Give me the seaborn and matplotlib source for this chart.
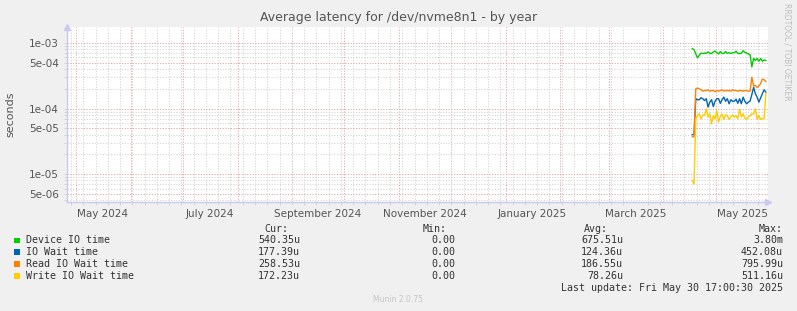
#!/usr/bin/env python3
# -*- coding: utf-8 -*-

import numpy as np
import pandas as pd
import matplotlib as mpl
mpl.use("Agg")
import matplotlib.pyplot as plt
import matplotlib.dates as mdates
from matplotlib.ticker import LogLocator, FuncFormatter, NullFormatter
from matplotlib.patches import Rectangle
import seaborn as sns


# ============================================================
# Data
# ============================================================
TITLE = "Average latency for /dev/nvme8n1 - by year"
FIRST_DAY = "2025-04-17 12:00"
RANGE_START = "2024-04-25 17:00"
RANGE_END = "2025-05-30 17:00"

SERIES = ["Device IO time", "IO Wait time", "Read IO Wait time", "Write IO Wait time"]
COLORS = ["#00CC00", "#0066B3", "#FF8000", "#FFCC00"]

DEVICE_IO = [
    8.2e-4, 7.9e-4, 6.8e-4, 5.9e-4, 6.5e-4, 7.0e-4, 6.9e-4, 7.0e-4, 6.95e-4, 7.3e-4,
    6.95e-4, 6.9e-4, 7.3e-4, 7.5e-4, 7.1e-4, 6.8e-4, 7.4e-4, 6.95e-4, 6.9e-4, 7.4e-4,
    6.95e-4, 7.1e-4, 6.9e-4, 7.1e-4, 7.1e-4, 7.5e-4, 6.9e-4, 6.9e-4, 6.95e-4, 7.6e-4,
    7.2e-4, 7.0e-4, 6.8e-4, 6.6e-4, 4.3e-4, 5.8e-4, 5.4e-4, 5.8e-4, 5.25e-4, 5.8e-4,
    5.25e-4, 5.5e-4, 5.4e-4,
]
IO_WAIT = [
    4.0e-5, 4.0e-5, 1.41e-4, 1.36e-4, 1.36e-4, 1.46e-4, 1.41e-4, 1.32e-4, 1.41e-4, 1.05e-4,
    1.25e-4, 1.36e-4, 1.07e-4, 1.29e-4, 1.41e-4, 1.41e-4, 1.20e-4, 1.36e-4, 1.49e-4, 1.29e-4,
    1.41e-4, 1.18e-4, 1.36e-4, 1.29e-4, 1.29e-4, 1.39e-4, 1.20e-4, 1.41e-4, 1.18e-4, 1.49e-4,
    1.29e-4, 1.18e-4, 1.25e-4, 1.30e-4, 1.64e-4, 2.11e-4, 1.68e-4, 1.49e-4, 1.25e-4, 1.45e-4,
    1.68e-4, 1.93e-4, 1.77e-4,
]
READ_WAIT = [
    3.7e-5, 3.7e-5, 2.0e-4, 2.05e-4, 2.0e-4, 1.93e-4, 1.84e-4, 1.88e-4, 1.88e-4, 1.93e-4,
    1.84e-4, 1.88e-4, 1.88e-4, 1.80e-4, 1.88e-4, 1.84e-4, 1.88e-4, 1.93e-4, 1.84e-4, 1.88e-4,
    1.88e-4, 1.88e-4, 1.84e-4, 1.93e-4, 1.88e-4, 1.88e-4, 1.84e-4, 1.88e-4, 1.88e-4, 1.84e-4,
    1.88e-4, 1.88e-4, 1.82e-4, 1.85e-4, 3.0e-4, 2.2e-4, 2.25e-4, 2.1e-4, 2.2e-4, 2.4e-4,
    2.8e-4, 2.75e-4, 2.58e-4,
]
WRITE_WAIT = [
    8.0e-6, 7.0e-6, 6.95e-5, 7.8e-5, 8.3e-5, 6.95e-5, 8.0e-5, 7.8e-5, 9.9e-5, 7.4e-5,
    8.3e-5, 5.8e-5, 7.8e-5, 6.95e-5, 9.3e-5, 6.2e-5, 7.6e-5, 8.3e-5, 6.8e-5, 8.0e-5,
    7.8e-5, 6.8e-5, 7.4e-5, 8.0e-5, 7.4e-5, 7.8e-5, 6.95e-5, 9.7e-5, 7.4e-5, 8.3e-5,
    7.1e-5, 6.8e-5, 7.4e-5, 7.8e-5, 8.3e-5, 8.3e-5, 9.9e-5, 6.8e-5, 7.8e-5, 6.8e-5,
    7.1e-5, 7.0e-5, 1.72e-4,
]

CUR = ["540.35u", "177.39u", "258.53u", "172.23u"]
MIN = ["0.00", "0.00", "0.00", "0.00"]
AVG = ["675.51u", "124.36u", "186.55u", "78.26u"]
MAX = ["3.80m", "452.08u", "795.99u", "511.16u"]
LAST_UPDATE = "Last update: Fri May 30 17:00:30 2025"

Y_MIN = 3.75e-6
Y_MAX = 1.75e-3

# ============================================================
# Figure geometry (pixels)
# ============================================================
W, H = 797, 311
PLOT_L, PLOT_R, PLOT_T, PLOT_B = 67, 768, 27, 202
BG = "#F0F0F0"
TEXT_C = "#555555"
LEGEND_C = "#333333"
MAJOR_GRID = "#E8A4A4"
MINOR_GRID = "#D4D4D4"
AXIS_C = "#C8C8F0"


def fx(x):
    return x / W


def fy(y):
    return 1 - y / H


# ============================================================
# Build long table
# ============================================================
values = [DEVICE_IO, IO_WAIT, READ_WAIT, WRITE_WAIT]
frames = []
for name, vals in zip(SERIES, values):
    dates = pd.date_range(FIRST_DAY, periods=len(vals), freq="D")
    frames.append(pd.DataFrame({"date": dates, "value": vals, "series": name}))
df = pd.concat(frames, ignore_index=True)


# ============================================================
# Plot
# ============================================================
fig = plt.figure(figsize=(W / 100, H / 100), dpi=100, facecolor=BG)
ax = fig.add_axes([fx(PLOT_L), fy(PLOT_B), fx(PLOT_R - PLOT_L), (PLOT_B - PLOT_T) / H])
ax.set_facecolor("white")

sns.lineplot(
    data=df, x="date", y="value", hue="series",
    hue_order=SERIES, palette=COLORS, linewidth=1.0,
    legend=False, ax=ax, zorder=5,
)

ax.set_yscale("log")
ax.set_ylim(Y_MIN, Y_MAX)
ax.set_xlim(pd.Timestamp(RANGE_START), pd.Timestamp(RANGE_END))

# y grid: 1 and 5 as major (red), rest minor (grey)
ax.yaxis.set_major_locator(LogLocator(base=10, subs=(1.0, 5.0)))
ax.yaxis.set_minor_locator(LogLocator(base=10, subs=(2.0, 3.0, 4.0, 6.0, 7.0, 8.0, 9.0)))
ax.yaxis.set_major_formatter(FuncFormatter(lambda v, p: f"{v:.0e}"))
ax.yaxis.set_minor_formatter(NullFormatter())

# x: weekly minor grid, labels at mid-month every 2 months
ax.xaxis.set_minor_locator(mdates.WeekdayLocator(byweekday=mdates.SU))
ax.xaxis.set_major_locator(mdates.MonthLocator(bymonth=[1, 3, 5, 7, 9, 11], bymonthday=16))
ax.xaxis.set_major_formatter(mdates.DateFormatter("%B %Y"))

dash = (0, (1.2, 1.6))
ax.grid(which="minor", color=MINOR_GRID, linestyle=dash, linewidth=0.7, zorder=0)
ax.grid(which="major", axis="y", color=MAJOR_GRID, linestyle=dash, linewidth=0.7, zorder=1)
for d in pd.date_range("2024-05-01", RANGE_END, freq="MS"):
    ax.axvline(d, color=MAJOR_GRID, linestyle=dash, linewidth=0.7, zorder=1)

ax.tick_params(axis="both", which="both", colors=MINOR_GRID, labelcolor=TEXT_C,
               labelsize=7.5, length=2, width=0.7)
ax.tick_params(axis="x", which="major", length=0, pad=5)
ax.tick_params(axis="y", which="major", pad=4)

ax.set_xlabel("")
ax.set_ylabel("")

for side in ["top", "right"]:
    ax.spines[side].set_visible(False)
for side in ["left", "bottom"]:
    ax.spines[side].set_color(AXIS_C)
    ax.spines[side].set_linewidth(1.0)

# axis arrows
ax.plot([0], [1.0], marker="^", color=AXIS_C, markersize=5, transform=ax.transAxes,
        clip_on=False, zorder=6)
ax.plot([1.0], [0], marker=">", color=AXIS_C, markersize=5, transform=ax.transAxes,
        clip_on=False, zorder=6)

# ============================================================
# Texts
# ============================================================
fig.text(0.5, fy(18), TITLE, ha="center", va="center", fontsize=9, color=TEXT_C)
fig.text(fx(10), fy((PLOT_T + PLOT_B) / 2), "seconds", rotation=90,
         ha="center", va="center", fontsize=8, color=TEXT_C)
fig.text(fx(787), fy(52), "RRDTOOL / TOBI OETIKER", rotation=270,
         ha="center", va="center", fontsize=5.5, color="#BDBDBD")
fig.text(fx(398), fy(300), "Munin 2.0.75", ha="center", va="center",
         fontsize=5.5, color="#C4C4C4")

mono = dict(family="DejaVu Sans Mono", fontsize=7.2, color=LEGEND_C, va="center")

header_y = 228.5
fig.text(fx(288), fy(header_y), "Cur:", ha="right", **mono)
fig.text(fx(447), fy(header_y), "Min:", ha="right", **mono)
fig.text(fx(608), fy(header_y), "Avg:", ha="right", **mono)
fig.text(fx(783), fy(header_y), "Max:", ha="right", **mono)

row_y = [240.3, 252.0, 263.8, 275.8]
for i, name in enumerate(SERIES):
    y = row_y[i]
    fig.patches.append(Rectangle((fx(14), fy(y + 2.7)), 5.5 / W, 5.5 / H,
                                 transform=fig.transFigure, facecolor=COLORS[i],
                                 edgecolor="none"))
    fig.text(fx(26), fy(y), name, ha="left", **mono)
    fig.text(fx(300), fy(y), CUR[i], ha="right", **mono)
    fig.text(fx(455), fy(y), MIN[i], ha="right", **mono)
    fig.text(fx(623), fy(y), AVG[i], ha="right", **mono)
    fig.text(fx(783), fy(y), MAX[i], ha="right", **mono)

fig.text(fx(783), fy(287.8), LAST_UPDATE, ha="right", **mono)

fig.savefig("out.png", dpi=100, facecolor=BG)
plt.close(fig)
